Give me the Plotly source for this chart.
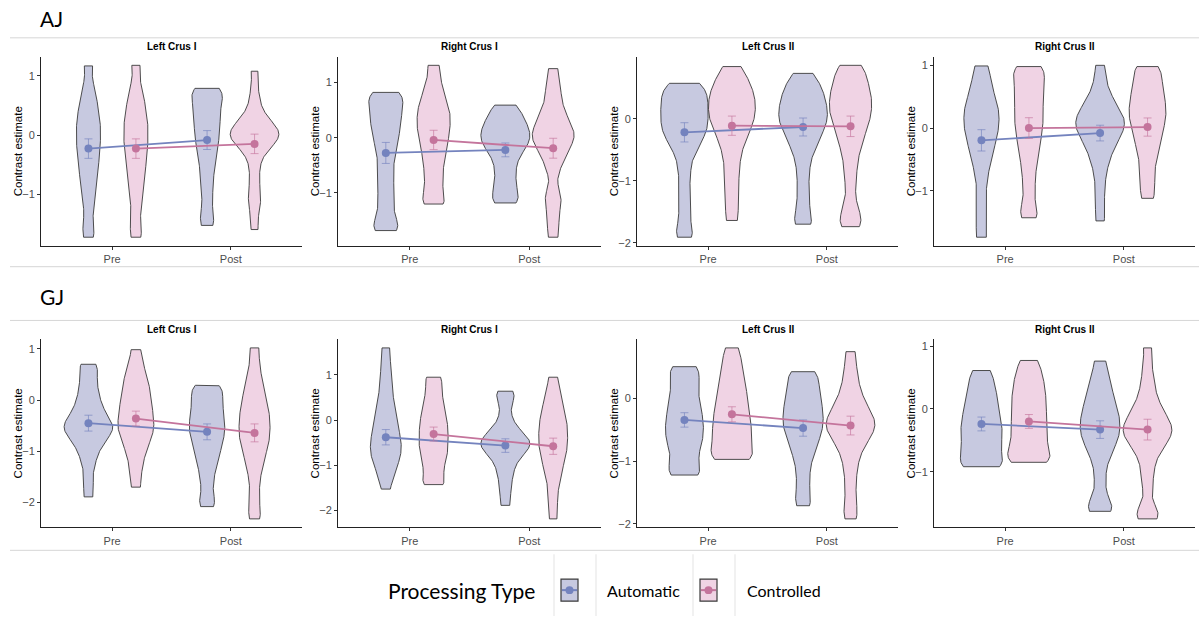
import numpy as np
import plotly.graph_objects as go

W, H = 1199, 619

SUBJECTS = ["AJ", "GJ"]
REGIONS = ["Left Crus I", "Right Crus I", "Left Crus II", "Right Crus II"]
SESSIONS = ["Pre", "Post"]
TYPES = ["Automatic", "Controlled"]

# ---------------- AJ contrast estimates (samples per violin) ----------------
aj_lc1_auto_pre = [1.17, 0.81, 0.61, 0.45, 0.31, 0.19, 0.07, -0.05, -0.17, -0.295, -0.425, -0.57, -0.73, -0.92, -1.16, -1.48, -1.73]
aj_lc1_auto_post = [0.79, 0.73, 0.64, 0.52, 0.39, 0.27, 0.14, 0.01, -0.12, -0.28, -0.47, -0.7, -0.98, -1.3, -1.53]
aj_lc1_ctrl_pre = [1.18, 0.81, 0.61, 0.45, 0.31, 0.19, 0.07, -0.05, -0.17, -0.295, -0.425, -0.57, -0.73, -0.92, -1.16, -1.48, -1.73]
aj_lc1_ctrl_post = [1.08, 0.72, 0.48, 0.33, 0.24, 0.17, 0.12, 0.08, 0.04, 0.0, -0.04, -0.08, -0.12, -0.18, -0.27, -0.42, -0.65, -0.9, -1.08, -1.27, -1.6]

aj_rc1_auto_pre = [0.82, 0.76, 0.67, 0.56, 0.45, 0.34, 0.23, 0.11, -0.02, -0.17, -0.36, -0.58, -0.8, -1.02, -1.24, -1.46, -1.62, -1.68]
aj_rc1_auto_post = [0.59, 0.5, 0.4, 0.31, 0.24, 0.17, 0.11, 0.05, -0.01, -0.07, -0.13, -0.2, -0.29, -0.41, -0.56, -0.71, -0.86, -1.01, -1.12, -1.18]
aj_rc1_ctrl_pre = [1.31, 1.0, 0.8, 0.65, 0.53, 0.42, 0.31, 0.2, 0.09, -0.03, -0.16, -0.31, -0.49, -0.68, -0.89, -1.1, -1.2]
aj_rc1_ctrl_post = [1.25, 0.98, 0.8, 0.62, 0.48, 0.37, 0.28, 0.2, 0.13, 0.07, 0.01, -0.05, -0.12, -0.2, -0.3, -0.43, -0.62, -0.96, -1.12, -1.3, -1.55, -1.8]

aj_lc2_auto_pre = [0.57, 0.52, 0.45, 0.37, 0.3, 0.23, 0.16, 0.09, 0.02, -0.05, -0.12, -0.19, -0.26, -0.34, -0.45, -0.6, -0.85, -1.15, -1.45, -1.75, -1.91]
aj_lc2_auto_post = [0.73, 0.62, 0.53, 0.45, 0.38, 0.31, 0.245, 0.18, 0.12, 0.06, 0.0, -0.06, -0.12, -0.19, -0.27, -0.36, -0.47, -0.62, -0.84, -1.1, -1.36, -1.6, -1.7]
aj_lc2_ctrl_pre = [0.84, 0.7, 0.6, 0.51, 0.43, 0.36, 0.29, 0.22, 0.15, 0.08, 0.01, -0.06, -0.14, -0.23, -0.34, -0.48, -0.66, -0.88, -1.12, -1.38, -1.64]
aj_lc2_ctrl_post = [0.86, 0.8, 0.7, 0.61, 0.53, 0.46, 0.39, 0.33, 0.26, 0.2, 0.13, 0.07, 0.0, -0.07, -0.15, -0.24, -0.34, -0.46, -0.62, -0.82, -1.06, -1.35, -1.55, -1.66, -1.74]

aj_rc2_auto_pre = [0.99, 0.8, 0.63, 0.5, 0.39, 0.3, 0.21, 0.12, 0.03, -0.06, -0.16, -0.27, -0.4, -0.56, -0.78, -1.1, -1.44, -1.74]
aj_rc2_auto_post = [1.0, 0.74, 0.56, 0.45, 0.36, 0.29, 0.23, 0.18, 0.13, 0.08, 0.03, -0.02, -0.07, -0.13, -0.2, -0.28, -0.38, -0.5, -0.66, -0.9, -1.2, -1.48]
aj_rc2_ctrl_pre = [0.98, 0.91, 0.8, 0.67, 0.54, 0.41, 0.28, 0.16, 0.03, -0.1, -0.25, -0.43, -0.65, -0.93, -1.25, -1.43]
aj_rc2_ctrl_post = [0.98, 0.92, 0.8, 0.69, 0.59, 0.5, 0.41, 0.33, 0.25, 0.17, 0.09, 0.0, -0.1, -0.21, -0.34, -0.5, -0.7, -0.92, -1.12]

# ---------------- GJ contrast estimates (samples per violin) ----------------
gj_lc1_auto_pre = [0.7, 0.6, 0.42, 0.26, 0.11, -0.01, -0.12, -0.22, -0.3, -0.37, -0.43, -0.48, -0.53, -0.58, -0.63, -0.69, -0.76, -0.85, -0.96, -1.1, -1.3, -1.6, -1.89]
gj_lc1_auto_post = [0.29, 0.23, 0.13, 0.02, -0.09, -0.19, -0.29, -0.38, -0.47, -0.56, -0.65, -0.74, -0.84, -0.95, -1.07, -1.21, -1.39, -1.62, -1.9, -2.08]
gj_lc1_ctrl_pre = [0.985, 0.72, 0.54, 0.41, 0.3, 0.19, 0.09, -0.01, -0.1, -0.19, -0.28, -0.36, -0.44, -0.52, -0.6, -0.68, -0.77, -0.88, -1.01, -1.18, -1.4, -1.7]
gj_lc1_ctrl_post = [1.02, 0.72, 0.47, 0.3, 0.16, 0.04, -0.07, -0.17, -0.27, -0.36, -0.45, -0.54, -0.63, -0.72, -0.81, -0.91, -1.02, -1.15, -1.31, -1.52, -1.8, -2.1, -2.32]

gj_rc1_auto_pre = [1.6, 1.3, 1.05, 0.82, 0.62, 0.45, 0.3, 0.17, 0.05, -0.06, -0.16, -0.26, -0.35, -0.43, -0.51, -0.59, -0.67, -0.75, -0.83, -0.92, -1.02, -1.14, -1.3, -1.53]
gj_rc1_auto_post = [0.64, 0.55, 0.38, 0.12, -0.08, -0.2, -0.29, -0.36, -0.41, -0.46, -0.51, -0.56, -0.61, -0.66, -0.72, -0.8, -0.9, -1.03, -1.19, -1.38, -1.62, -1.89]
gj_rc1_ctrl_pre = [0.95, 0.86, 0.66, 0.5, 0.37, 0.25, 0.14, 0.04, -0.06, -0.15, -0.24, -0.33, -0.42, -0.51, -0.6, -0.69, -0.78, -0.88, -0.99, -1.12, -1.27, -1.4, -1.43]
gj_rc1_ctrl_post = [0.95, 0.7, 0.52, 0.37, 0.25, 0.14, 0.04, -0.06, -0.15, -0.24, -0.33, -0.42, -0.51, -0.6, -0.69, -0.79, -0.9, -1.02, -1.16, -1.33, -1.56, -1.85, -2.19]

gj_lc2_auto_pre = [0.51, 0.45, 0.33, 0.2, 0.07, -0.05, -0.16, -0.26, -0.35, -0.44, -0.53, -0.62, -0.71, -0.81, -0.94, -1.1, -1.18, -1.22]
gj_lc2_auto_post = [0.43, 0.37, 0.26, 0.15, 0.05, -0.04, -0.13, -0.21, -0.29, -0.37, -0.45, -0.53, -0.62, -0.72, -0.85, -1.02, -1.26, -1.52, -1.71]
gj_lc2_ctrl_pre = [0.81, 0.62, 0.47, 0.34, 0.22, 0.11, 0.01, -0.09, -0.18, -0.27, -0.35, -0.43, -0.51, -0.59, -0.67, -0.75, -0.84, -0.92, -0.96, -0.97]
gj_lc2_ctrl_post = [0.75, 0.5, 0.3, 0.14, 0.02, -0.08, -0.16, -0.23, -0.29, -0.34, -0.39, -0.44, -0.49, -0.54, -0.6, -0.67, -0.76, -0.88, -1.04, -1.25, -1.5, -1.75, -1.92]

gj_rc2_auto_pre = [0.61, 0.45, 0.3, 0.18, 0.06, -0.05, -0.15, -0.25, -0.34, -0.43, -0.52, -0.62, -0.73, -0.85, -0.9, -0.92]
gj_rc2_auto_post = [0.76, 0.52, 0.35, 0.22, 0.11, 0.01, -0.08, -0.16, -0.24, -0.32, -0.4, -0.48, -0.57, -0.69, -0.87, -1.15, -1.45, -1.58, -1.63]
gj_rc2_ctrl_pre = [0.77, 0.6, 0.46, 0.34, 0.22, 0.11, 0.0, -0.11, -0.22, -0.33, -0.44, -0.55, -0.66, -0.76, -0.82, -0.85]
gj_rc2_ctrl_post = [0.97, 0.62, 0.38, 0.2, 0.07, -0.03, -0.11, -0.18, -0.24, -0.29, -0.34, -0.39, -0.44, -0.5, -0.57, -0.66, -0.8, -1.0, -1.25, -1.6, -1.68, -1.75]

# ---------------- estimated means and standard errors [Pre, Post] per region ----------------
aj_auto_mean = [[-0.23, -0.085], [-0.275, -0.22], [-0.22, -0.134], [-0.196, -0.08]]
aj_auto_se = [[0.165, 0.16], [0.19, 0.125], [0.155, 0.145], [0.17, 0.125]]
aj_ctrl_mean = [[-0.23, -0.15], [-0.04, -0.19], [-0.113, -0.123], [0.0, 0.016]]
aj_ctrl_se = [[0.165, 0.165], [0.175, 0.18], [0.155, 0.165], [0.165, 0.145]]
gj_auto_mean = [[-0.45, -0.62], [-0.38, -0.565], [-0.34, -0.47], [-0.24, -0.33]]
gj_auto_se = [[0.155, 0.155], [0.17, 0.15], [0.115, 0.13], [0.11, 0.14]]
gj_ctrl_mean = [[-0.36, -0.64], [-0.31, -0.58], [-0.25, -0.43], [-0.20, -0.33]]
gj_ctrl_se = [[0.145, 0.175], [0.155, 0.18], [0.12, 0.15], [0.11, 0.165]]

# ---------------- assemble lookups ----------------
SAMPLES = {
    "AJ": [
        {"Automatic": [aj_lc1_auto_pre, aj_lc1_auto_post], "Controlled": [aj_lc1_ctrl_pre, aj_lc1_ctrl_post]},
        {"Automatic": [aj_rc1_auto_pre, aj_rc1_auto_post], "Controlled": [aj_rc1_ctrl_pre, aj_rc1_ctrl_post]},
        {"Automatic": [aj_lc2_auto_pre, aj_lc2_auto_post], "Controlled": [aj_lc2_ctrl_pre, aj_lc2_ctrl_post]},
        {"Automatic": [aj_rc2_auto_pre, aj_rc2_auto_post], "Controlled": [aj_rc2_ctrl_pre, aj_rc2_ctrl_post]},
    ],
    "GJ": [
        {"Automatic": [gj_lc1_auto_pre, gj_lc1_auto_post], "Controlled": [gj_lc1_ctrl_pre, gj_lc1_ctrl_post]},
        {"Automatic": [gj_rc1_auto_pre, gj_rc1_auto_post], "Controlled": [gj_rc1_ctrl_pre, gj_rc1_ctrl_post]},
        {"Automatic": [gj_lc2_auto_pre, gj_lc2_auto_post], "Controlled": [gj_lc2_ctrl_pre, gj_lc2_ctrl_post]},
        {"Automatic": [gj_rc2_auto_pre, gj_rc2_auto_post], "Controlled": [gj_rc2_ctrl_pre, gj_rc2_ctrl_post]},
    ],
}
MEANS = {"AJ": {"Automatic": aj_auto_mean, "Controlled": aj_ctrl_mean},
         "GJ": {"Automatic": gj_auto_mean, "Controlled": gj_ctrl_mean}}
SES = {"AJ": {"Automatic": aj_auto_se, "Controlled": aj_ctrl_se},
       "GJ": {"Automatic": gj_auto_se, "Controlled": gj_ctrl_se}}

# ---------------- styles ----------------
FILL = {"Automatic": "#C7C9E0", "Controlled": "#F0D3E4"}
POINT = {"Automatic": "#7483BE", "Controlled": "#C4749C"}
ERRC = {"Automatic": "rgba(116,131,190,0.65)", "Controlled": "rgba(196,116,156,0.65)"}
DODGE = {"Automatic": -0.2, "Controlled": 0.2}
HALF_W = 0.205          # half-width of the widest violin in a panel (x units)
BW = 0.15               # KDE bandwidth
FONT = "Liberation Sans, Arial, sans-serif"
HEAD_FONT = "Lato, Open Sans, sans-serif"


def px(x):
    return x / W


def py(y):
    return 1 - y / H


def kde(vals, bw, n=240):
    """Gaussian KDE trimmed to the data range (geom_violin trim = TRUE)."""
    v = np.asarray(vals, dtype=float)
    grid = np.linspace(v.min(), v.max(), n)
    dens = np.exp(-0.5 * ((grid[:, None] - v[None, :]) / bw) ** 2).sum(axis=1)
    return grid, dens / (len(v) * bw * np.sqrt(2 * np.pi))


X_DOM_PX = [(41, 302), (338, 601), (637, 898), (934, 1195)]
Y_DOM_PX = [(57, 247), (341, 530)]
TITLE_Y_PX = [47, 331]
HEAD_Y_PX = [18.5, 298]

fig = go.Figure()
layout = dict(
    width=W, height=H, margin=dict(l=0, r=0, t=0, b=0),
    paper_bgcolor="white", plot_bgcolor="white", showlegend=False,
    font=dict(family=FONT, color="#000000"),
)
annotations = []
shapes = []

for r, subj in enumerate(SUBJECTS):
    for c, region in enumerate(REGIONS):
        idx = r * 4 + c + 1
        xa = "x" if idx == 1 else f"x{idx}"
        ya = "y" if idx == 1 else f"y{idx}"
        dens = {(t, s): kde(SAMPLES[subj][c][t][s], BW) for t in TYPES for s in range(len(SESSIONS))}
        dmax = max(d.max() for _, d in dens.values())   # equal-area scaling within panel
        lo, hi = 1e9, -1e9
        for t in TYPES:
            for s, sess in enumerate(SESSIONS):
                grid, d = dens[(t, s)]
                half = d / dmax * HALF_W
                center = s + 1 + DODGE[t]
                xs = np.concatenate([center - half, (center + half)[::-1], [center - half[0]]])
                ys = np.concatenate([grid, grid[::-1], [grid[0]]])
                lo = min(lo, grid.min(), MEANS[subj][t][c][s] - SES[subj][t][c][s])
                hi = max(hi, grid.max(), MEANS[subj][t][c][s] + SES[subj][t][c][s])
                fig.add_trace(go.Scatter(
                    x=xs, y=ys, mode="lines", fill="toself", fillcolor=FILL[t],
                    line=dict(color="#3a3a3a", width=0.9), xaxis=xa, yaxis=ya,
                    name=f"{t} {sess}", hoverinfo="skip",
                ))
        for t in TYPES:
            fig.add_trace(go.Scatter(
                x=[s + 1 + DODGE[t] for s in range(len(SESSIONS))],
                y=MEANS[subj][t][c],
                mode="lines+markers",
                line=dict(color=POINT[t], width=1.8),
                marker=dict(color=POINT[t], size=8),
                error_y=dict(type="data", array=SES[subj][t][c], color=ERRC[t],
                             thickness=1, width=4),
                xaxis=xa, yaxis=ya, name=t, hoverinfo="skip",
            ))
        pad = 0.05 * (hi - lo)
        x0, x1 = X_DOM_PX[c]
        y0, y1 = Y_DOM_PX[r]
        key = "" if idx == 1 else str(idx)
        layout["xaxis" + key] = dict(
            domain=[px(x0), px(x1)], anchor=ya, range=[0.4, 2.6],
            tickvals=[1, 2], ticktext=SESSIONS, showgrid=False, zeroline=False,
            showline=True, linecolor="#222222", linewidth=1,
            ticks="outside", ticklen=3, tickcolor="#333333",
            tickfont=dict(size=11, color="#4D4D4D", family=FONT),
        )
        layout["yaxis" + key] = dict(
            domain=[py(y1), py(y0)], anchor=xa, range=[lo - pad, hi + pad],
            dtick=1, showgrid=False, zeroline=False,
            showline=True, linecolor="#222222", linewidth=1,
            ticks="outside", ticklen=3, tickcolor="#333333",
            tickfont=dict(size=11, color="#4D4D4D", family=FONT),
        )
        annotations.append(dict(
            text=f"<b>{region}</b>", x=px((x0 + x1) / 2), y=py(TITLE_Y_PX[r]),
            xref="paper", yref="paper", showarrow=False, xanchor="center", yanchor="middle",
            font=dict(size=10, color="#000000", family=FONT),
        ))
        annotations.append(dict(
            text="Contrast estimate", x=px(x0 - 23), y=py((y0 + y1) / 2),
            xref="paper", yref="paper", showarrow=False, textangle=-90,
            xanchor="center", yanchor="middle",
            font=dict(size=11.5, color="#000000", family=FONT),
        ))
    annotations.append(dict(
        text=subj, x=px(38), y=py(HEAD_Y_PX[r]), xref="paper", yref="paper",
        showarrow=False, xanchor="left", yanchor="middle",
        font=dict(size=21, color="#000000", family=HEAD_FONT),
    ))

# separator rules
for yline in [38, 268, 322, 553]:
    shapes.append(dict(type="line", xref="paper", yref="paper", x0=px(10), x1=1,
                       y0=py(yline), y1=py(yline), line=dict(color="#D6D6D6", width=1)))

# legend
annotations.append(dict(text="Processing Type", x=px(461), y=py(593), xref="paper", yref="paper",
                        showarrow=False, xanchor="center", yanchor="middle",
                        font=dict(size=21, color="#000000", family=HEAD_FONT)))
for xv in [554, 596, 693, 735]:
    shapes.append(dict(type="line", xref="paper", yref="paper", x0=px(xv), x1=px(xv),
                       y0=py(557), y1=0, line=dict(color="#E3E3E3", width=1)))
KEY_X = {"Automatic": 561, "Controlled": 700}
LABEL_X = {"Automatic": 605, "Controlled": 745}
for t in TYPES:
    kx = KEY_X[t]
    shapes.append(dict(type="rect", xref="paper", yref="paper", x0=px(kx), x1=px(kx + 17),
                       y0=py(604), y1=py(582), fillcolor=FILL[t],
                       line=dict(color="#3a3a3a", width=1.2)))
    shapes.append(dict(type="line", xref="paper", yref="paper", x0=px(kx + 1), x1=px(kx + 16),
                       y0=py(593), y1=py(593), line=dict(color=POINT[t], width=2)))
    shapes.append(dict(type="circle", xref="paper", yref="paper", x0=px(kx + 4.5), x1=px(kx + 12.5),
                       y0=py(597), y1=py(589), fillcolor=POINT[t], line=dict(width=0)))
    annotations.append(dict(text=t, x=px(LABEL_X[t]), y=py(593), xref="paper", yref="paper",
                            showarrow=False, xanchor="left", yanchor="middle",
                            font=dict(size=16, color="#000000", family=HEAD_FONT)))

layout["annotations"] = annotations
layout["shapes"] = shapes
fig.update_layout(**layout)
fig.write_html("out.html", config={"displayModeBar": False},
               post_script="document.body.style.margin='0px';")
